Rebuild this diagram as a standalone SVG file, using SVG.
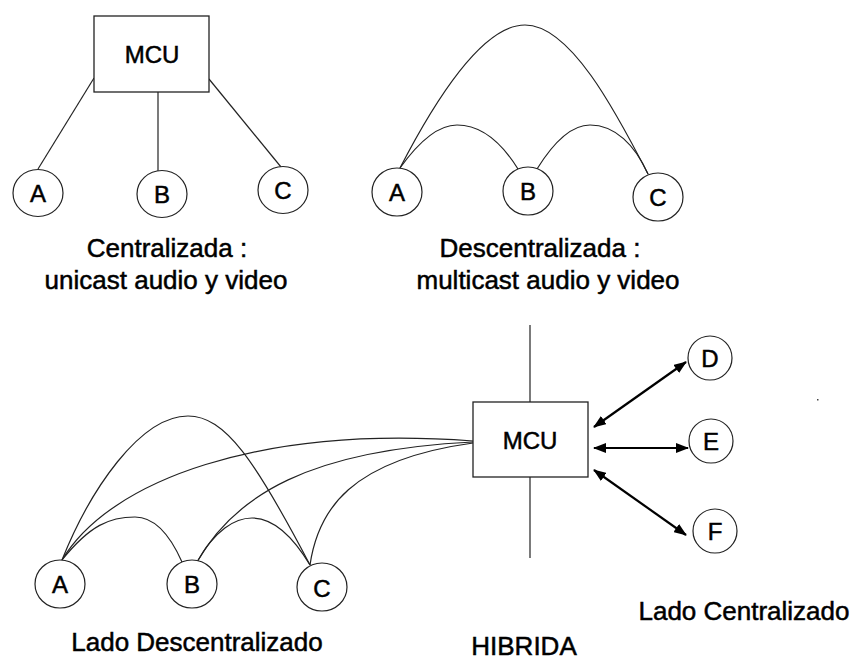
<svg xmlns="http://www.w3.org/2000/svg" width="855" height="660" viewBox="0 0 855 660">
<style>
.bg{fill:#fff}
.box{fill:#fff;stroke:#222;stroke-width:1.3}
.node{fill:#fff;stroke:#222;stroke-width:1.2}
.ln{fill:none;stroke:#222;stroke-width:1.2}
.arr{fill:none;stroke:#000;stroke-width:2.2}
text{font-family:"Liberation Sans",Arial,sans-serif;fill:#000;stroke:#000;stroke-width:0.5}
.t{font-size:24px;text-anchor:middle}
.lbl{font-size:26px;text-anchor:middle}
</style>
<defs>
<marker id="ah" viewBox="0 0 13 10" refX="12" refY="5" markerWidth="13" markerHeight="10" markerUnits="userSpaceOnUse" orient="auto-start-reverse">
<path d="M0,0 L13,5 L0,10 z" fill="#000"/>
</marker>
</defs>
<rect class="bg" x="0" y="0" width="855" height="660"/>

<g id="connectors">
<line class="ln" x1="94" y1="78" x2="38" y2="169"/>
<line class="ln" x1="158" y1="92" x2="158" y2="171"/>
<line class="ln" x1="209" y1="79" x2="281" y2="167"/>
<path class="ln" d="M400,168 C430,110 480,25 525,25 C570,25 615,110 648,174"/>
<path class="ln" d="M400,168 C420,140 440,125 457,125 C480,125 500,140 518,169"/>
<path class="ln" d="M537,169 C555,140 573,125 590,125 C615,125 635,145 648,174"/>
<path class="ln" d="M62,560 C90,490 140,416 188,416 C225,416 255,460 310,565"/>
<path class="ln" d="M62,560 C90,525 110,517 135,517 C155,517 170,535 182,562"/>
<path class="ln" d="M197,562 C215,530 235,518 252,518 C275,518 295,540 310,565"/>
<path class="ln" d="M62,560 C110,480 260,425 473,441"/>
<path class="ln" d="M197,562 C235,495 310,450 473,442"/>
<path class="ln" d="M310,565 C318,510 350,460 473,443"/>
<line class="ln" x1="530" y1="325" x2="530" y2="402"/>
<line class="ln" x1="530" y1="477" x2="530" y2="558"/>
<line class="arr" x1="594" y1="427" x2="686" y2="362" marker-start="url(#ah)" marker-end="url(#ah)"/>
<line class="arr" x1="594" y1="448" x2="688" y2="448" marker-start="url(#ah)" marker-end="url(#ah)"/>
<line class="arr" x1="594" y1="470" x2="686" y2="535" marker-start="url(#ah)" marker-end="url(#ah)"/>
</g>

<g id="mcu1"><rect class="box" x="94" y="16" width="115" height="76"/><text class="t" x="152" y="63">MCU</text></g>
<g id="c1A"><ellipse class="node" cx="38" cy="193" rx="25" ry="23.5"/><text class="t" x="38" y="202">A</text></g>
<g id="c1B"><ellipse class="node" cx="162" cy="194" rx="25" ry="23.5"/><text class="t" x="162" y="203">B</text></g>
<g id="c1C"><ellipse class="node" cx="283" cy="190" rx="25" ry="23.5"/><text class="t" x="283" y="199">C</text></g>
<g id="lbl1"><text class="lbl" x="167" y="257">Centralizada :</text><text class="lbl" x="166" y="289">unicast audio y video</text></g>

<g id="d2A"><ellipse class="node" cx="397" cy="192" rx="25" ry="24"/><text class="t" x="397" y="201">A</text></g>
<g id="d2B"><ellipse class="node" cx="528" cy="191" rx="25" ry="24"/><text class="t" x="528" y="200">B</text></g>
<g id="d2C"><ellipse class="node" cx="658" cy="197" rx="25" ry="24"/><text class="t" x="658" y="206">C</text></g>
<g id="lbl2"><text class="lbl" x="540" y="257">Descentralizada :</text><text class="lbl" x="548" y="289">multicast audio y video</text></g>

<g id="mcu3"><rect class="box" x="473" y="402" width="115" height="75"/><text class="t" x="530" y="449">MCU</text></g>
<g id="h3A"><ellipse class="node" cx="60" cy="584" rx="25" ry="24"/><text class="t" x="60" y="593">A</text></g>
<g id="h3B"><ellipse class="node" cx="192" cy="584" rx="25" ry="24"/><text class="t" x="192" y="593">B</text></g>
<g id="h3C"><ellipse class="node" cx="322" cy="587" rx="25" ry="24"/><text class="t" x="322" y="597">C</text></g>
<g id="h3D"><ellipse class="node" cx="710" cy="358" rx="22" ry="22"/><text class="t" x="710" y="367">D</text></g>
<g id="h3E"><ellipse class="node" cx="711" cy="441" rx="22" ry="22"/><text class="t" x="711" y="450">E</text></g>
<g id="h3F"><ellipse class="node" cx="715" cy="531" rx="22" ry="22"/><text class="t" x="715" y="540">F</text></g>
<rect x="817" y="399" width="1.5" height="1.5" fill="#444"/>
<g id="lbl3">
<text class="lbl" x="197" y="651">Lado Descentralizado</text>
<text class="lbl" x="744" y="620">Lado Centralizado</text>
<text class="lbl" x="524" y="655">HIBRIDA</text>
</g>
</svg>
